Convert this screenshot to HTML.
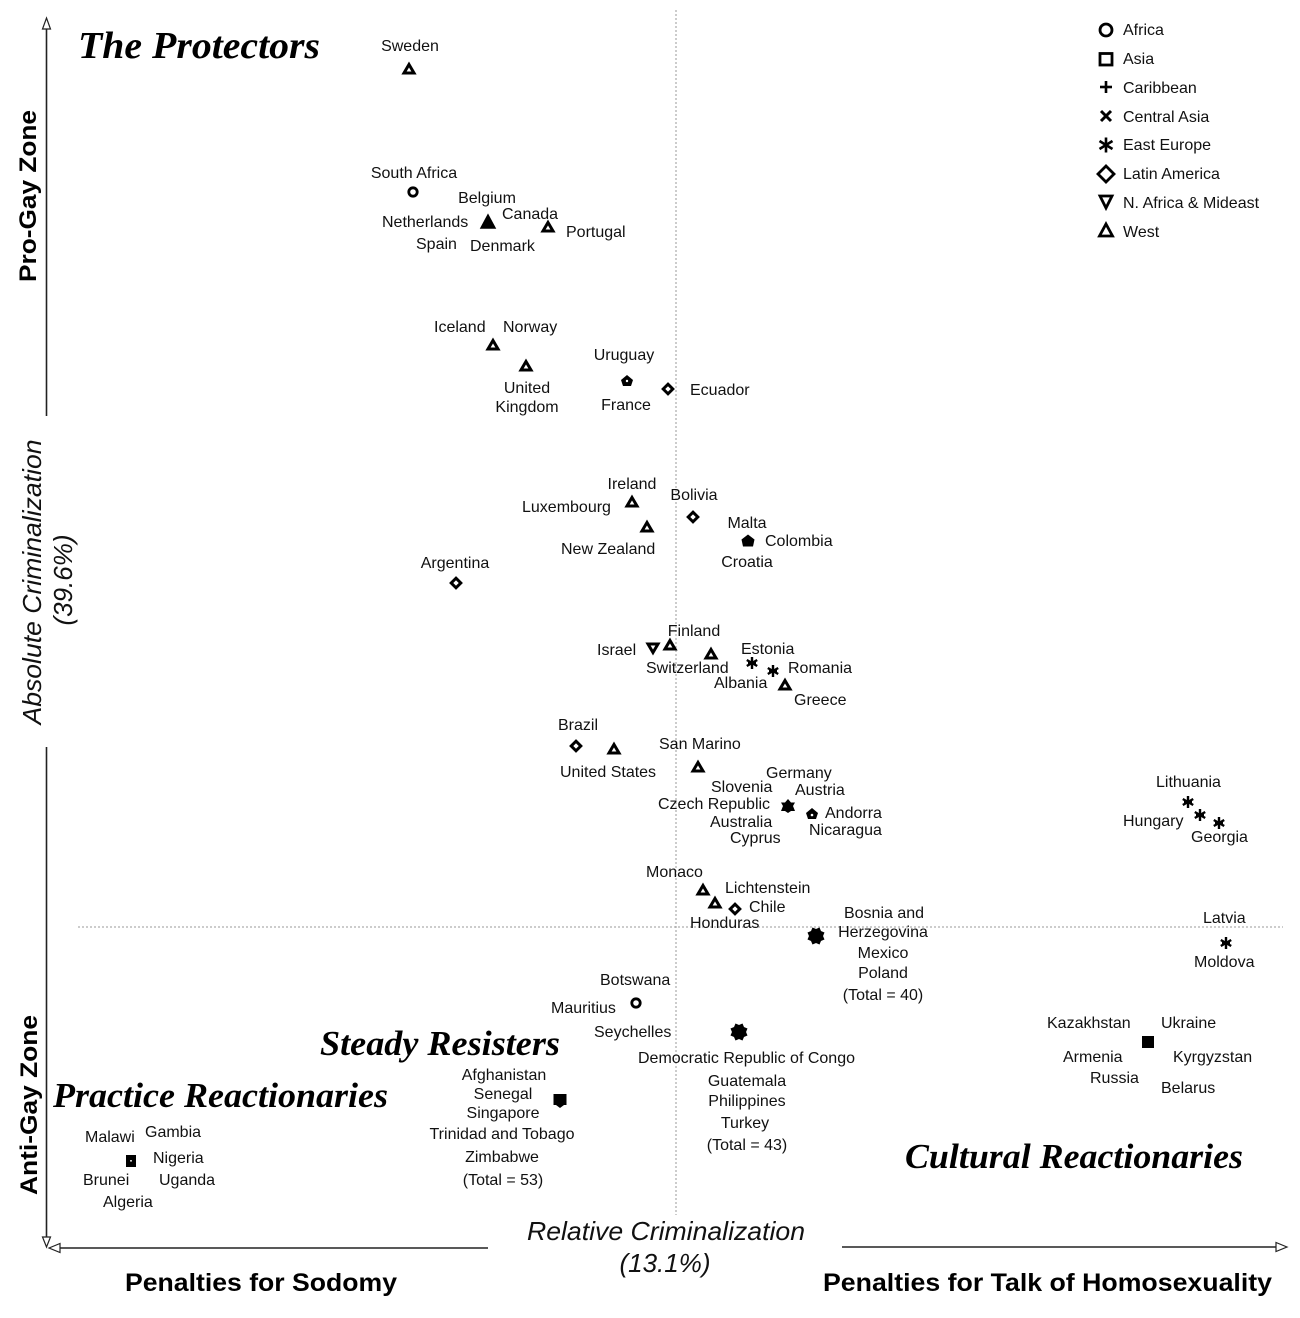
<!DOCTYPE html>
<html><head><meta charset="utf-8"><style>
html,body{margin:0;padding:0;background:#fff;}
svg{display:block;}
.l{font-family:"Liberation Sans",Arial,sans-serif;font-size:16px;fill:#111;}
.lg{font-family:"Liberation Sans",Arial,sans-serif;font-size:16px;fill:#111;}
.t{font-family:"Liberation Serif","Times New Roman",serif;font-weight:bold;font-style:italic;fill:#000;}
.b{font-family:"Liberation Sans",Arial,sans-serif;font-weight:bold;fill:#000;}
.i{font-family:"Liberation Sans",Arial,sans-serif;font-style:italic;fill:#111;font-size:26px;}
</style></head><body>
<svg width="1300" height="1318" viewBox="0 0 1300 1318" xmlns="http://www.w3.org/2000/svg">
<defs>
<polygon id="tri" points="0,-4.5 5,4 -5,4" fill="#fff" stroke="#000" stroke-width="3" stroke-linejoin="miter"/>
<polygon id="itri" points="0,4.5 5,-4 -5,-4" fill="#fff" stroke="#000" stroke-width="3"/>
<polygon id="dia" points="0,-4.8 4.8,0 0,4.8 -4.8,0" fill="#fff" stroke="#000" stroke-width="3"/>
<circle id="cir" r="4.2" fill="#fff" stroke="#000" stroke-width="2.8"/>
<g id="ast" stroke="#000" stroke-width="2.4" stroke-linecap="butt">
<line x1="0" y1="-6" x2="0" y2="6"/><line x1="-5.2" y1="-3" x2="5.2" y2="3"/><line x1="-5.2" y1="3" x2="5.2" y2="-3"/><line x1="-4" y1="0" x2="4" y2="0"/>
</g>
<g id="blob" fill="#000">
<circle r="6"/><rect x="-6.5" y="-6.5" width="13" height="13" transform="rotate(22.5)"/><rect x="-6.5" y="-6.5" width="13" height="13" transform="rotate(-22.5)"/>
</g>
</defs>
<rect width="1300" height="1318" fill="#fff"/>

<!-- dotted reference lines -->
<line x1="676" y1="10" x2="676" y2="1215" stroke="#9a9a9a" stroke-width="1" stroke-dasharray="2,2"/>
<line x1="78" y1="927" x2="1283" y2="927" stroke="#9a9a9a" stroke-width="1" stroke-dasharray="2,2"/>

<!-- axes -->
<g stroke="#222" stroke-width="1.6" fill="none">
<line x1="46.5" y1="29" x2="46.5" y2="416"/>
<line x1="46.5" y1="747" x2="46.5" y2="1237"/>
<line x1="60" y1="1248" x2="488" y2="1248"/>
<line x1="842" y1="1247" x2="1276" y2="1247"/>
</g>
<g stroke="#222" stroke-width="1.2" fill="#fff">
<polygon points="46.5,18 50.5,29 42.5,29"/>
<polygon points="46.5,1247 50.5,1237 42.5,1237"/>
<polygon points="49,1248 60,1243.5 60,1252.5"/>
<polygon points="1287,1247 1276,1242.5 1276,1251.5"/>
</g>

<!-- axis labels -->
<text class="b" font-size="24" text-anchor="middle" textLength="172" lengthAdjust="spacingAndGlyphs" transform="translate(36,196) rotate(-90)">Pro-Gay Zone</text>
<text class="b" font-size="24" text-anchor="middle" textLength="180" lengthAdjust="spacingAndGlyphs" transform="translate(37,1105) rotate(-90)">Anti-Gay Zone</text>
<text class="i" text-anchor="middle" textLength="285" lengthAdjust="spacingAndGlyphs" transform="translate(41,582) rotate(-90)">Absolute Criminalization</text>
<text class="i" text-anchor="middle" transform="translate(72,580) rotate(-90)">(39.6%)</text>
<text class="i" x="666" y="1240" text-anchor="middle" textLength="278" lengthAdjust="spacingAndGlyphs">Relative Criminalization</text>
<text class="i" x="665" y="1272" text-anchor="middle">(13.1%)</text>
<text class="b" font-size="25" x="125" y="1291" textLength="272" lengthAdjust="spacingAndGlyphs">Penalties for Sodomy</text>
<text class="b" font-size="25" x="823" y="1291" textLength="449" lengthAdjust="spacingAndGlyphs">Penalties for Talk of Homosexuality</text>

<!-- quadrant titles -->
<text class="t" font-size="38" x="78" y="58" textLength="242" lengthAdjust="spacingAndGlyphs">The Protectors</text>
<text class="t" font-size="35" x="320" y="1055" textLength="240" lengthAdjust="spacingAndGlyphs">Steady Resisters</text>
<text class="t" font-size="35" x="53" y="1107" textLength="335" lengthAdjust="spacingAndGlyphs">Practice Reactionaries</text>
<text class="t" font-size="35" x="905" y="1168" textLength="338" lengthAdjust="spacingAndGlyphs">Cultural Reactionaries</text>

<!-- legend -->
<g fill="#fff" stroke="#000" stroke-width="2.8">
<circle cx="1106" cy="30" r="6"/>
<rect x="1100" y="53.5" width="12" height="11.5"/>
<line x1="1106" y1="81" x2="1106" y2="93" stroke-width="2.6"/><line x1="1100" y1="87" x2="1112" y2="87" stroke-width="2.6"/>
<line x1="1101" y1="111" x2="1111" y2="121" stroke-width="3"/><line x1="1101" y1="121" x2="1111" y2="111" stroke-width="3"/>
<polygon points="1106,166 1114,174 1106,182 1098,174"/>
<polygon points="1100,196 1112,196 1106,208" stroke-linejoin="miter"/>
<polygon points="1106,224 1112.5,236 1099.5,236" stroke-linejoin="miter"/>
</g>
<g stroke="#000" stroke-width="2.6">
<line x1="1106" y1="137.5" x2="1106" y2="152.5"/><line x1="1099.5" y1="141" x2="1112.5" y2="149"/><line x1="1099.5" y1="149" x2="1112.5" y2="141"/>
</g>
<text class="lg" x="1123" y="35">Africa</text>
<text class="lg" x="1123" y="64">Asia</text>
<text class="lg" x="1123" y="93">Caribbean</text>
<text class="lg" x="1123" y="122">Central Asia</text>
<text class="lg" x="1123" y="150">East Europe</text>
<text class="lg" x="1123" y="179">Latin America</text>
<text class="lg" x="1123" y="208">N. Africa &amp; Mideast</text>
<text class="lg" x="1123" y="237">West</text>

<!-- markers -->
<use href="#tri" x="409" y="69"/>
<use href="#tri" x="548" y="227"/>
<use href="#tri" x="493" y="345"/>
<use href="#tri" x="526" y="366"/>
<use href="#tri" x="632" y="502"/>
<use href="#tri" x="647" y="527"/>
<use href="#tri" x="670" y="645"/>
<use href="#tri" x="711" y="654"/>
<use href="#tri" x="785" y="685"/>
<use href="#tri" x="614" y="749"/>
<use href="#tri" x="698" y="767"/>
<use href="#tri" x="703" y="890"/>
<use href="#tri" x="715" y="903"/>
<polygon points="488,215 495,228 481,228" fill="#000" stroke="#000" stroke-width="1.5"/>
<use href="#cir" x="413" y="192"/>
<use href="#cir" x="636" y="1003"/>
<use href="#dia" x="668" y="389"/>
<use href="#dia" x="693" y="517"/>
<use href="#dia" x="456" y="583"/>
<use href="#dia" x="576" y="746"/>
<use href="#dia" x="735" y="909"/>
<use href="#itri" x="653" y="648"/>
<use href="#ast" x="752" y="663"/>
<use href="#ast" x="773" y="671"/>
<use href="#ast" x="1188" y="802"/>
<use href="#ast" x="1200" y="815"/>
<use href="#ast" x="1219" y="823"/>
<use href="#ast" x="1226" y="943"/>
<!-- combined markers -->
<g transform="translate(627,381)"><polygon points="0,-6 6,-1 4,5 -4,5 -6,-1" fill="#000"/><circle r="1.2" fill="#fff"/></g>
<g transform="translate(748,541)"><polygon points="0,-6.5 6.5,-1.5 5,5.5 -5,5.5 -6.5,-1.5" fill="#000"/></g>
<g transform="translate(788,806)"><polygon points="0,-7 3,-3.5 7,-3.5 5,0 7,5 3,5 0,7 -3,5 -7,5 -5,0 -7,-3.5 -3,-3.5" fill="#000"/></g>
<g transform="translate(812,814)"><polygon points="0,-6 6,-1 4,5 -4,5 -6,-1" fill="#000"/><circle cy="1" r="1.3" fill="#fff"/></g>
<use href="#blob" x="816" y="936"/>
<use href="#blob" x="739" y="1032"/>
<g transform="translate(560,1100)"><rect x="-6.5" y="-6" width="13" height="11" fill="#000"/><polygon points="-4,5 4,5 0,8" fill="#000"/></g>
<g transform="translate(131,1161)"><rect x="-5" y="-6" width="10" height="12" fill="#000"/><rect x="-0.8" y="-1" width="1.6" height="1.6" fill="#fff"/></g>
<g transform="translate(1148,1042)"><rect x="-6" y="-6" width="12" height="12" fill="#000"/></g>

<!-- labels -->
<g class="l">
<text x="410" y="51" text-anchor="middle">Sweden</text>
<text x="414" y="178" text-anchor="middle">South Africa</text>
<text x="487" y="203" text-anchor="middle">Belgium</text>
<text x="382" y="227">Netherlands</text>
<text x="502" y="219">Canada</text>
<text x="566" y="237">Portugal</text>
<text x="416" y="249">Spain</text>
<text x="470" y="251">Denmark</text>
<text x="434" y="332">Iceland</text>
<text x="503" y="332">Norway</text>
<text x="527" y="393" text-anchor="middle">United</text>
<text x="527" y="412" text-anchor="middle">Kingdom</text>
<text x="624" y="360" text-anchor="middle">Uruguay</text>
<text x="626" y="410" text-anchor="middle">France</text>
<text x="690" y="395">Ecuador</text>
<text x="632" y="489" text-anchor="middle">Ireland</text>
<text x="522" y="512">Luxembourg</text>
<text x="694" y="500" text-anchor="middle">Bolivia</text>
<text x="561" y="554">New Zealand</text>
<text x="747" y="528" text-anchor="middle">Malta</text>
<text x="765" y="546">Colombia</text>
<text x="747" y="567" text-anchor="middle">Croatia</text>
<text x="455" y="568" text-anchor="middle">Argentina</text>
<text x="694" y="636" text-anchor="middle">Finland</text>
<text x="597" y="655">Israel</text>
<text x="646" y="673">Switzerland</text>
<text x="741" y="654">Estonia</text>
<text x="788" y="673">Romania</text>
<text x="714" y="688">Albania</text>
<text x="794" y="705">Greece</text>
<text x="558" y="730">Brazil</text>
<text x="560" y="777">United States</text>
<text x="659" y="749">San Marino</text>
<text x="766" y="778">Germany</text>
<text x="711" y="792">Slovenia</text>
<text x="795" y="795">Austria</text>
<text x="658" y="809">Czech Republic</text>
<text x="825" y="818">Andorra</text>
<text x="710" y="827">Australia</text>
<text x="809" y="835">Nicaragua</text>
<text x="730" y="843">Cyprus</text>
<text x="646" y="877">Monaco</text>
<text x="725" y="893">Lichtenstein</text>
<text x="749" y="912">Chile</text>
<text x="690" y="928">Honduras</text>
<text x="884" y="918" text-anchor="middle">Bosnia and</text>
<text x="883" y="937" text-anchor="middle">Herzegovina</text>
<text x="883" y="958" text-anchor="middle">Mexico</text>
<text x="883" y="978" text-anchor="middle">Poland</text>
<text x="883" y="1000" text-anchor="middle">(Total = 40)</text>
<text x="1156" y="787">Lithuania</text>
<text x="1123" y="826">Hungary</text>
<text x="1191" y="842">Georgia</text>
<text x="1203" y="923">Latvia</text>
<text x="1194" y="967">Moldova</text>
<text x="600" y="985">Botswana</text>
<text x="551" y="1013">Mauritius</text>
<text x="594" y="1037">Seychelles</text>
<text x="638" y="1063">Democratic Republic of Congo</text>
<text x="747" y="1086" text-anchor="middle">Guatemala</text>
<text x="747" y="1106" text-anchor="middle">Philippines</text>
<text x="745" y="1128" text-anchor="middle">Turkey</text>
<text x="747" y="1150" text-anchor="middle">(Total = 43)</text>
<text x="1047" y="1028">Kazakhstan</text>
<text x="1161" y="1028">Ukraine</text>
<text x="1063" y="1062">Armenia</text>
<text x="1173" y="1062">Kyrgyzstan</text>
<text x="1090" y="1083">Russia</text>
<text x="1161" y="1093">Belarus</text>
<text x="504" y="1080" text-anchor="middle">Afghanistan</text>
<text x="503" y="1099" text-anchor="middle">Senegal</text>
<text x="503" y="1118" text-anchor="middle">Singapore</text>
<text x="502" y="1139" text-anchor="middle">Trinidad and Tobago</text>
<text x="502" y="1162" text-anchor="middle">Zimbabwe</text>
<text x="503" y="1185" text-anchor="middle">(Total = 53)</text>
<text x="85" y="1142">Malawi</text>
<text x="145" y="1137">Gambia</text>
<text x="153" y="1163">Nigeria</text>
<text x="83" y="1185">Brunei</text>
<text x="159" y="1185">Uganda</text>
<text x="103" y="1207">Algeria</text>
</g>
</svg>
</body></html>
